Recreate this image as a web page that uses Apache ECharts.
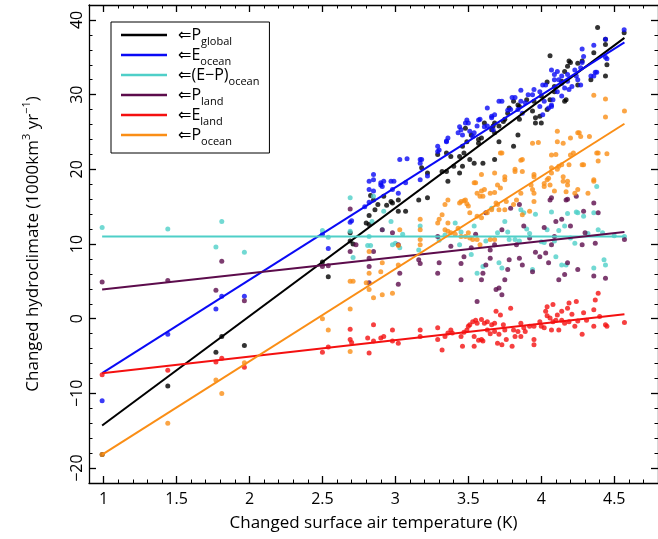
<!DOCTYPE html>
<html>
<head>
<meta charset="utf-8">
<script src="https://cdn.jsdelivr.net/npm/echarts@6/dist/echarts.min.js"></script>
<style>
  html, body { margin: 0; padding: 0; background: #fff; }
  #chart { width: 658px; height: 539px; }
</style>
</head>
<body>
<div id="chart"></div>
<script>
// Series identifiers, legend text and colours
const seriesNames = ['Pglobal', 'Eocean', 'EPocean', 'Pland', 'Eland', 'Pocean'];
const legendMain = ['⇐P', '⇐E', '⇐(E−P)', '⇐P', '⇐E', '⇐P'];
const legendSub = ['global', 'ocean', 'ocean', 'land', 'land', 'ocean'];
const seriesColors = ['#000000', '#0a0af5', '#4fcfc8', '#5c0c4c', '#f41010', '#fa8e16'];

// Axis ticks
const xTickLabels = [1, 1.5, 2, 2.5, 3, 3.5, 4, 4.5];
const yTickLabels = [-20, -10, 0, 10, 20, 30, 40];

// Regression lines: end points (x, then y for each quantity)
const fitX = [0.99, 4.57];
const fitPglobal = [-14.3, 37.6];
const fitEocean = [-7.3, 37.0];
const fitEPocean = [11.0, 11.0];
const fitPland = [3.9, 11.6];
const fitEland = [-7.3, 0.6];
const fitPocean = [-18.2, 26.1];

// Simulations: [changed surface air temperature (K), changed flux (1000 km3/yr)]
const pGlobal = [[0.99,-18.2],[1.44,-9.0],[1.77,-4.5],[1.81,-2.4],[1.965,-3.6],[2.50,7.6],[2.54,5.6],[2.69,10.4],[2.71,10.0],[2.69,11.5],
[2.80,12.8],[2.82,13.8],[2.82,12.6],[2.83,16.5],[2.85,15.9],[2.86,14.6],[2.88,15.3],[2.92,16.4],[2.94,15.2],[2.97,15.7],[2.98,15.5],[3.02,14.4],[3.02,15.9],[3.07,14.4],[3.16,15.9],[3.18,20.2],[3.22,19.5],[3.22,16.2],[3.29,22.0],[3.32,19.7],[3.35,22.2],[3.35,19.7],[3.36,18.4],[3.38,21.7],[3.40,20.4],[3.44,21.7],[3.44,19.5],[3.46,23.1],[3.46,20.4],[3.47,22.2],[3.48,25.5],[3.49,23.7],[3.51,21.3],[3.52,24.6],[3.54,20.8],[3.57,23.5],[3.57,24.0],[3.59,24.2],[3.60,20.8],[3.61,26.2],[3.66,25.3],[3.67,25.8],[3.68,26.2],[3.68,21.3],[3.68,24.9],[3.71,25.8],[3.71,23.7],[3.74,26.4],[3.75,26.7],[3.77,27.5],[3.78,28.2],[3.81,23.1],[3.81,29.1],[3.84,24.6],[3.84,28.6],[3.85,26.7],[3.85,28.4],[3.90,29.3],[3.94,27.8],[3.95,29.1],[3.96,26.2],[3.96,26.9],[3.99,27.1],[4.00,29.8],[4.00,26.2],[4.04,31.7],[4.04,28.0],[4.06,35.2],[4.06,29.3],[4.09,31.1],[4.09,30.4],[4.14,31.8],[4.16,33.1],[4.16,29.1],[4.17,29.3],[4.18,33.8],[4.19,34.5],[4.20,34.3],[4.25,34.2],[4.25,31.3],[4.28,34.5],[4.34,32.0],[4.36,35.6],[4.386,39.0],[4.44,37.4],[4.44,36.7],[4.44,32.5],[4.45,34.0],[4.568,38.3]];

const eOcean = [[0.99,-11.0],[1.44,-2.1],[1.77,1.3],[1.81,3.0],[1.965,3.0],[2.50,11.3],[2.54,9.4],[2.69,12.9],[2.70,13.1],
[2.79,15.0],[2.82,18.4],[2.82,17.3],[2.82,15.6],[2.85,19.3],[2.85,18.6],[2.85,17.1],[2.90,17.9],[2.90,18.2],[2.91,17.7],[2.92,18.4],[2.97,18.4],[2.98,17.3],[2.99,18.4],[3.02,16.8],[3.03,21.3],[3.07,18.2],[3.08,21.4],[3.17,21.3],[3.17,20.8],[3.17,18.6],[3.18,21.3],[3.22,19.1],[3.29,23.1],[3.29,22.4],[3.30,22.6],[3.35,23.8],[3.35,23.7],[3.36,24.2],[3.43,24.9],[3.44,25.7],[3.45,25.3],[3.46,24.6],[3.48,26.2],[3.49,26.6],[3.50,26.2],[3.51,25.1],[3.53,24.4],[3.54,24.9],[3.56,25.8],[3.57,26.6],[3.58,26.7],[3.61,25.7],[3.63,28.2],[3.63,25.8],[3.66,27.1],[3.66,26.9],[3.67,25.3],[3.68,27.3],[3.71,29.1],[3.73,29.1],[3.77,27.9],[3.79,28.0],[3.80,29.6],[3.82,29.6],[3.84,28.0],[3.86,30.6],[3.86,29.1],[3.87,27.5],[3.89,28.9],[3.91,30.0],[3.94,30.0],[3.95,30.7],[3.99,30.4],[3.99,28.4],[4.01,31.3],[4.01,27.3],[4.02,29.1],[4.03,31.3],[4.05,28.2],[4.07,33.3],[4.07,28.6],[4.07,28.4],[4.08,29.3],[4.09,32.7],[4.09,32.0],[4.11,33.1],[4.11,30.4],[4.12,32.0],[4.14,32.5],[4.14,31.5],[4.14,29.8],[4.16,30.9],[4.18,32.7],[4.18,31.8],[4.19,30.7],[4.21,31.1],[4.23,33.3],[4.24,32.5],[4.25,32.0],[4.27,33.6],[4.27,31.3],[4.28,36.1],[4.28,34.3],[4.29,35.1],[4.34,32.5],[4.36,32.5],[4.36,36.6],[4.37,33.0],[4.38,33.0],[4.44,37.4],[4.44,35.0],[4.45,34.8],[4.568,38.7]];

const epOcean = [[0.99,12.2],[1.44,12.0],[1.77,9.6],[1.81,13.0],[1.965,8.9],[2.50,11.8],[2.54,10.9],[2.69,16.2],[2.69,11.7],[2.71,8.2],[2.81,9.8],[2.82,11.0],[2.83,9.8],[2.84,13.0],[2.85,16.4],[2.91,11.9],[2.92,14.4],[2.97,13.0],[2.98,9.9],[3.00,10.1],[3.03,9.5],[3.05,11.3],[3.16,9.2],[3.17,12.4],[3.30,10.5],[3.34,11.2],[3.41,12.8],[3.44,9.9],[3.45,11.6],[3.52,8.6],[3.54,12.4],[3.56,6.1],[3.60,7.0],[3.62,10.4],[3.66,14.8],[3.70,11.5],[3.71,7.5],[3.73,6.8],[3.75,13.0],[3.77,11.6],[3.78,10.6],[3.82,10.6],[3.85,10.4],[3.86,14.6],[3.88,14.2],[3.90,12.0],[3.92,11.4],[3.94,6.6],[3.96,14.0],[4.00,10.3],[4.02,10.2],[4.04,11.9],[4.07,14.3],[4.09,10.4],[4.10,8.3],[4.12,11.8],[4.14,7.2],[4.16,12.4],[4.17,7.2],[4.18,14.1],[4.20,10.8],[4.23,10.1],[4.24,14.3],[4.25,14.2],[4.29,13.7],[4.32,11.4],[4.36,14.2],[4.36,6.8],[4.38,17.7],[4.39,11.9],[4.42,11.5],[4.43,7.9],[4.44,7.2],[4.50,11.1],[4.57,11.0]];

const pLand = [[0.99,4.9],[1.44,5.1],[1.77,3.8],[1.81,7.7],[1.965,2.4],[2.50,7.0],[2.54,7.1],[2.69,14.7],[2.69,9.0],[2.73,9.9],[2.82,8.1],[2.82,7.0],[2.82,4.8],[2.85,9.0],[2.91,11.9],[2.98,11.5],[3.02,9.9],[3.03,6.1],[3.02,4.6],[3.16,7.9],[3.17,7.4],[3.29,11.0],[3.30,7.5],[3.29,6.1],[3.38,9.7],[3.45,5.2],[3.47,8.3],[3.45,7.4],[3.52,9.5],[3.55,11.3],[3.56,2.3],[3.59,5.2],[3.60,6.1],[3.62,7.2],[3.62,14.2],[3.65,9.2],[3.65,8.1],[3.68,9.9],[3.69,3.9],[3.71,4.1],[3.73,3.2],[3.73,11.9],[3.75,5.2],[3.77,6.6],[3.78,7.9],[3.79,14.8],[3.83,9.9],[3.85,8.1],[3.85,15.3],[3.87,7.2],[3.88,12.4],[3.92,10.8],[3.94,6.3],[3.96,8.9],[3.99,8.3],[4.02,12.2],[4.03,8.8],[4.05,7.5],[4.06,15.9],[4.07,16.2],[4.07,9.9],[4.09,11.0],[4.10,13.0],[4.12,5.2],[4.14,13.3],[4.16,5.9],[4.17,15.9],[4.18,7.5],[4.18,16.0],[4.20,12.4],[4.24,16.4],[4.25,6.6],[4.28,9.9],[4.29,14.4],[4.30,11.5],[4.36,5.7],[4.36,15.5],[4.37,10.1],[4.39,14.2],[4.44,5.4],[4.57,10.6]];

const eLand = [[0.99,-7.5],[1.44,-6.9],[1.77,-5.8],[1.81,-5.3],[1.965,-6.5],[2.50,-4.5],[2.54,-3.8],[2.69,-1.4],[2.69,-2.8],[2.70,-3.2],
[2.81,-2.6],[2.82,-4.6],[2.85,-0.8],[2.85,-3.0],[2.90,-2.6],[2.92,-2.4],[2.98,-1.5],[2.98,-3.0],[3.02,-3.3],[3.17,-2.4],[3.17,-1.5],[3.29,-1.2],[3.29,-2.8],[3.32,-4.2],[3.34,-2.4],[3.36,-1.9],[3.38,-1.5],[3.39,-1.9],[3.45,-2.4],[3.46,-3.7],[3.47,-1.8],[3.49,-1.5],[3.50,-1.0],[3.51,-0.8],[3.53,-0.4],[3.54,-2.4],[3.54,-3.7],[3.55,-0.2],[3.56,-0.6],[3.57,-2.9],[3.59,-0.1],[3.59,-2.8],[3.60,-3.0],[3.61,-0.6],[3.63,-0.4],[3.63,-1.5],[3.65,-2.0],[3.66,-0.8],[3.68,-0.6],[3.68,-1.7],[3.69,1.0],[3.70,-3.3],[3.71,-2.1],[3.72,0.5],[3.73,-3.5],[3.74,-0.8],[3.75,-1.5],[3.76,-2.8],[3.79,1.4],[3.80,-3.7],[3.81,-1.5],[3.82,-2.4],[3.84,-1.7],[3.86,-0.6],[3.86,-2.4],[3.88,-1.2],[3.89,-1.7],[3.92,-1.0],[3.95,-2.8],[3.95,-3.5],[3.95,-1.0],[3.99,-0.4],[4.00,-1.0],[4.02,-1.2],[4.03,1.0],[4.04,1.6],[4.04,0.4],[4.06,0.1],[4.07,-1.5],[4.08,1.9],[4.08,-0.4],[4.10,-0.2],[4.11,0.5],[4.12,-1.5],[4.14,1.0],[4.14,-0.2],[4.16,-0.6],[4.18,1.4],[4.19,2.1],[4.19,-0.4],[4.21,0.6],[4.23,-1.0],[4.24,2.3],[4.25,-0.3],[4.28,-2.1],[4.29,0.8],[4.31,-0.2],[4.36,1.2],[4.36,-1.0],[4.37,2.5],[4.39,3.4],[4.40,0.3],[4.44,-0.8],[4.45,-1.0],[4.57,-0.5]];

const pOcean = [[0.99,-18.2],[1.44,-14.0],[1.77,-8.2],[1.81,-10.0],[1.965,-5.9],[2.50,0.0],[2.54,-1.5],[2.69,5.0],[2.69,1.3],[2.69,-4.4],[2.71,5.0],[2.80,4.8],[2.82,9.0],[2.82,6.1],[2.82,3.9],[2.85,2.8],[2.90,6.3],[2.91,7.5],[2.91,3.2],[2.98,3.4],[3.02,9.8],[3.02,7.2],[3.03,11.9],[3.17,13.3],[3.17,11.9],[3.17,10.6],[3.17,9.9],[3.29,12.8],[3.30,13.3],[3.32,13.9],[3.34,15.3],[3.34,11.9],[3.36,15.9],[3.36,12.8],[3.36,11.7],[3.38,11.5],[3.41,11.3],[3.43,12.1],[3.44,15.5],[3.45,15.7],[3.45,11.0],[3.47,15.8],[3.48,15.9],[3.48,11.0],[3.49,15.4],[3.50,15.1],[3.50,11.5],[3.51,14.2],[3.51,10.8],[3.53,10.6],[3.54,18.2],[3.55,18.2],[3.56,16.8],[3.56,13.7],[3.56,10.6],[3.58,16.4],[3.58,9.9],[3.59,19.3],[3.59,17.1],[3.59,13.5],[3.60,16.4],[3.61,17.3],[3.63,14.2],[3.65,16.8],[3.65,10.6],[3.66,14.6],[3.68,19.5],[3.68,16.9],[3.68,10.6],[3.69,15.5],[3.70,17.9],[3.70,15.3],[3.71,14.6],[3.72,22.2],[3.72,17.5],[3.73,22.2],[3.75,18.6],[3.75,19.0],[3.75,14.6],[3.76,15.7],[3.81,15.3],[3.82,19.7],[3.82,20.0],[3.83,15.9],[3.86,21.2],[3.86,16.8],[3.87,21.3],[3.87,19.7],[3.87,13.9],[3.92,14.4],[3.93,17.9],[3.94,23.5],[3.94,17.3],[3.95,19.3],[3.95,19.0],[3.95,16.8],[3.95,15.7],[3.98,23.6],[4.02,17.7],[4.02,18.1],[4.04,18.6],[4.05,18.8],[4.06,17.9],[4.07,20.2],[4.07,19.5],[4.07,21.9],[4.09,17.1],[4.10,22.0],[4.11,25.1],[4.11,20.0],[4.11,23.7],[4.12,20.4],[4.14,20.6],[4.15,23.5],[4.15,18.4],[4.15,19.0],[4.17,17.0],[4.18,17.9],[4.18,18.4],[4.19,20.6],[4.20,24.2],[4.20,21.9],[4.22,22.2],[4.23,16.8],[4.25,24.9],[4.25,17.3],[4.26,24.9],[4.27,24.4],[4.28,20.6],[4.29,20.6],[4.32,16.8],[4.33,24.4],[4.36,29.9],[4.36,18.6],[4.36,18.4],[4.38,22.2],[4.39,22.2],[4.39,21.1],[4.44,29.4],[4.44,27.0],[4.45,22.1],[4.57,27.8]];

const scatterData = [pGlobal, eOcean, epOcean, pLand, eLand, pOcean];
const fitData = [fitPglobal, fitEocean, fitEPocean, fitPland, fitEland, fitPocean];

// Plot range
const xMin = 0.9, xMax = 4.8;
const yMin = -22, yMax = 42;

// Minor tick positions (every 0.1 K and every 2 units), skipping the labelled ones
const xMinorTicks = [];
for (let k = 10; k <= 47; k++) {
  if (k % 5 !== 0) xMinorTicks.push(k / 10);
}
const yMinorTicks = [];
for (let v = -20; v <= 40; v += 2) {
  if (v % 10 !== 0) yMinorTicks.push(v);
}

const FONT = '"Open Sans", "DejaVu Sans", sans-serif';
const AXIS_COLOR = '#000';

function frameAxis(position, majors, minors, withLabels, isX) {
  const base = {
    type: 'value',
    position: position,
    min: isX ? xMin : yMin,
    max: isX ? xMax : yMax,
    splitLine: { show: false },
    axisLine: { show: true, onZero: false, lineStyle: { color: AXIS_COLOR, width: 1.3 } },
    axisTick: { show: true, inside: true, length: 7, customValues: majors, lineStyle: { color: AXIS_COLOR, width: 1.3 } },
    axisLabel: { show: false }
  };
  const minor = {
    type: 'value',
    position: position,
    min: isX ? xMin : yMin,
    max: isX ? xMax : yMax,
    splitLine: { show: false },
    axisLine: { show: false, onZero: false },
    axisTick: { show: true, inside: true, length: 3.5, customValues: minors, lineStyle: { color: AXIS_COLOR, width: 1 } },
    axisLabel: { show: false }
  };
  if (withLabels) {
    base.axisLabel = {
      show: true,
      customValues: majors,
      color: '#000',
      fontFamily: FONT,
      fontSize: 16,
      margin: isX ? 8 : 4,
      rotate: isX ? 0 : 90,
      formatter: v => String(v).replace('-', '−')
    };
  }
  return [base, minor];
}

const xAxes = [...frameAxis('bottom', xTickLabels, xMinorTicks, true, true), ...frameAxis('top', xTickLabels, xMinorTicks, false, true)];
const yAxes = [...frameAxis('left', yTickLabels, yMinorTicks, true, false), ...frameAxis('right', yTickLabels, yMinorTicks, false, false)];

xAxes[0].name = 'Changed surface air temperature (K)';
xAxes[0].nameLocation = 'middle';
xAxes[0].nameGap = 32;
xAxes[0].nameTextStyle = { color: '#000', fontFamily: FONT, fontSize: 17 };

yAxes[0].name = '{a|Changed hydroclimate (1000km}{p|3}{a| yr}{p|−1}{a|)}';
yAxes[0].nameLocation = 'middle';
yAxes[0].nameGap = 44;
yAxes[0].nameRotate = 90;
yAxes[0].nameTextStyle = {
  color: '#000',
  fontFamily: FONT,
  rich: {
    a: { fontFamily: FONT, fontSize: 17, lineHeight: 24, color: '#000' },
    p: { fontFamily: FONT, fontSize: 11, lineHeight: 11, verticalAlign: 'top', color: '#000' }
  }
};

const series = [];
seriesNames.forEach((name, i) => {
  series.push({
    name: name + '_pts',
    type: 'scatter',
    data: scatterData[i],
    symbol: 'circle',
    symbolSize: 5,
    itemStyle: { color: seriesColors[i] },
    z: 2,
    silent: true
  });
});
seriesNames.forEach((name, i) => {
  series.push({
    name: name,
    type: 'line',
    data: fitX.map((x, j) => [x, fitData[i][j]]),
    showSymbol: false,
    symbol: 'none',
    itemStyle: { color: seriesColors[i] },
    lineStyle: { color: seriesColors[i], width: 2 },
    z: 3,
    silent: true
  });
});

const chart = echarts.init(document.getElementById('chart'), null, { renderer: 'canvas' });
chart.setOption({
  animation: false,
  backgroundColor: '#fff',
  grid: { left: 89, top: 5, width: 571, height: 478, containLabel: false },
  xAxis: xAxes,
  yAxis: yAxes,
  legend: {
    data: seriesNames,
    left: 111,
    top: 22,
    orient: 'vertical',
    icon: 'rect',
    itemWidth: 46,
    itemHeight: 2.5,
    itemGap: 0,
    padding: [5, 10, 6, 10],
    borderColor: '#000',
    borderWidth: 1,
    backgroundColor: '#fff',
    selectedMode: false,
    formatter: name => {
      const i = seriesNames.indexOf(name);
      return '{m|' + legendMain[i] + '}{s|' + legendSub[i] + '}';
    },
    textStyle: {
      color: '#000',
      fontFamily: FONT,
      rich: {
        m: { fontFamily: FONT, fontSize: 16, lineHeight: 24, color: '#000', padding: [0, 0, 0, 6] },
        s: { fontFamily: FONT, fontSize: 11, lineHeight: 11, verticalAlign: 'bottom', color: '#000' }
      }
    }
  },
  series: series
});
</script>
</body>
</html>
